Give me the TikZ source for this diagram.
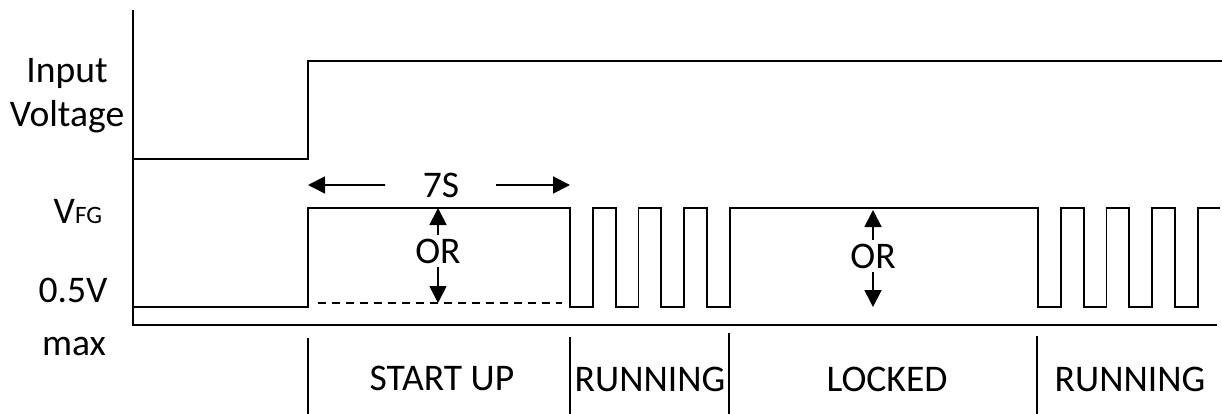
\documentclass[tikz,border=0pt]{standalone}
\usepackage{fontspec}
\setmainfont{Carlito}
\usetikzlibrary{arrows.meta}

\begin{document}
\begin{tikzpicture}[x=1pt,y=-1pt,line width=1.8pt,line cap=butt]
	\tikzstyle{lbl}=[font=\fontsize{37.6}{45}\selectfont,inner sep=0pt];
	\tikzstyle{tip}=[-{Triangle[length=17pt,width=17pt]}];
	\useasboundingbox (0,0) rectangle (1222,414);
	%% Axes
	\draw (133,10) -- (133,325) -- (1217,325);
	%% Input voltage
	\draw (133,159) -- (308,159) -- (308,61) -- (1222,61);
	%% FG output
	\draw (133,307) -- (308,307) -- (308,208) -- (570,208)
		\foreach \i in {1,2,3} { -- ++(0,99) -- ++(22.8,0) -- ++(0,-99) -- ++(22.8,0) }
		-- ++(0,99) -- ++(22.8,0) -- ++(0,-99) -- (1038,208)
		\foreach \i in {1,...,4} { -- ++(0,99) -- ++(22.8,0) -- ++(0,-99) -- ++(22.8,0) };
	\draw[dash pattern=on 8pt off 6pt,line width=1.5pt] (318,303) -- (562,303);
	%% Phase dividers
	\foreach \x/\top in {308/338,570/337,729/333,1037/336}
		\draw (\x,\top) -- (\x,414);
	%% Left labels
	\node[lbl,anchor=base] (in)  at (67,83)   {Input};
	\node[lbl,anchor=base] (vol) at (67,127)  {Voltage};
	\node[lbl,anchor=base east] (vfg) at (103,223)
		{V{\fontsize{25}{30}\selectfont FG}};
	\node[lbl,anchor=base] (lo)  at (73,302)  {0.5V};
	\node[lbl,anchor=base] (mx)  at (74,355)  {max};
	%% 7S
	\coordinate (su-l) at (308,185);
	\coordinate (su-r) at (570,185);
	\node[lbl,anchor=base] (t7) at (441,197) {7S};
	\draw[tip] (t7) ++(-56,0) -- (su-l);
	\draw[tip] (t7) ++(55,0)  -- (su-r);
	%% OR arrows
	\coordinate (s-hi) at (438,208);
	\coordinate (s-lo) at (438,303);
	\coordinate (l-hi) at (873,210);
	\coordinate (l-lo) at (873,307);
	\node[lbl,anchor=base,inner sep=3pt] (or1) at (438,263) {OR};
	\node[lbl,anchor=base,inner sep=3pt] (or2) at (873,268) {OR};
	\draw[tip] (or1.north) -- (s-hi);
	\draw[tip] (or1.south) -- (s-lo);
	\draw[tip] (or2.north) -- (l-hi);
	\draw[tip] (or2.south) -- (l-lo);
	%% Phases
	\node[lbl,anchor=base] (start) at (442,390)  {START UP};
	\node[lbl,anchor=base] (run1)  at (650,391)  {RUNNING};
	\node[lbl,anchor=base] (lock)  at (887,391)  {LOCKED};
	\node[lbl,anchor=base] (run2)  at (1130,391) {RUNNING};
\end{tikzpicture}
\end{document}
